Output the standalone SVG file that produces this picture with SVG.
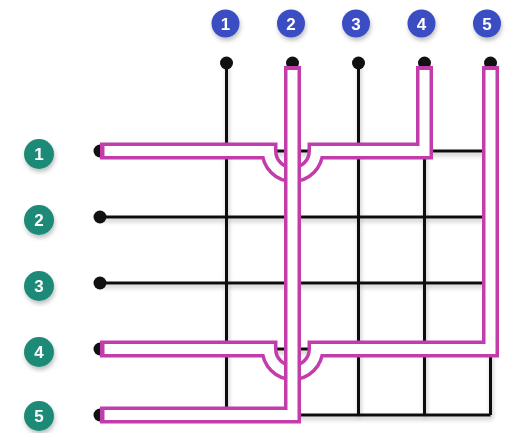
<svg xmlns="http://www.w3.org/2000/svg" width="508" height="433" viewBox="0 0 508 433">
<defs>
<style>
.grid{stroke:#111;stroke-width:3;fill:none}
.dot{fill:#111}
.tubeO{stroke:#c23cab;stroke-width:17;fill:none;stroke-linejoin:miter}
.tubeI{stroke:#fff;stroke-width:10;fill:none;stroke-linejoin:miter}
.bt{fill:#3a4dc2}
.bl{fill:#1e8a77}
.lbl{font-family:"Liberation Sans",Arial,sans-serif;font-weight:bold;font-size:17px;fill:#fff;text-anchor:middle}
</style>
<filter id="sh" x="-20%" y="-20%" width="140%" height="140%">
<feDropShadow dx="1" dy="3" stdDeviation="2" flood-color="#000" flood-opacity="0.25"/>
</filter>
</defs>
<rect width="508" height="433" fill="#fff"/>
<g id="connectors">
<g filter="url(#sh)">
<path class="grid" d="M226.5,63V415M292.5,63V415M358.5,63V415M424.5,63V415M490.5,63V415"/>
<path class="grid" d="M100,151H490.5M100,217H490.5M100,283H490.5M100,349H490.5M100,415H490.5"/>
</g>
<g class="dot">
<circle cx="226.5" cy="63" r="6.5"/><circle cx="292.5" cy="63" r="6.5"/><circle cx="358.5" cy="63" r="6.5"/><circle cx="424.5" cy="63" r="6.5"/><circle cx="490.5" cy="63" r="6.5"/>
<circle cx="100" cy="151" r="6.5"/><circle cx="100" cy="217" r="6.5"/><circle cx="100" cy="283" r="6.5"/><circle cx="100" cy="349" r="6.5"/><circle cx="100" cy="415" r="6.5"/>
</g>
<g id="route-row1-col4">
<path class="tubeO" d="M100,151H269A23.5,23.5 0 0 0 316,151H424.5V66"/>
<path class="tubeI" d="M104.5,151H269A23.5,23.5 0 0 0 316,151H424.5V70"/>
</g>
<g id="route-col5-row4">
<path class="tubeO" d="M490.5,66V349H316A23.5,23.5 0 0 1 269,349H100"/>
<path class="tubeI" d="M490.5,70V349H316A23.5,23.5 0 0 1 269,349H104.5"/>
</g>
<g id="route-col2-row5">
<path class="tubeO" d="M292.5,66V415H100"/>
<path class="tubeI" d="M292.5,70V415H104.5"/>
</g>
</g>
<g id="top-1" filter="url(#sh)"><circle class="bt" cx="225.5" cy="23.5" r="14"/><text class="lbl" x="225.5" y="29.5">1</text></g>
<g id="top-2" filter="url(#sh)"><circle class="bt" cx="291" cy="23.5" r="14"/><text class="lbl" x="291" y="29.5">2</text></g>
<g id="top-3" filter="url(#sh)"><circle class="bt" cx="356" cy="23.5" r="14"/><text class="lbl" x="356" y="29.5">3</text></g>
<g id="top-4" filter="url(#sh)"><circle class="bt" cx="421.5" cy="23.5" r="14"/><text class="lbl" x="421.5" y="29.5">4</text></g>
<g id="top-5" filter="url(#sh)"><circle class="bt" cx="487" cy="23.5" r="14"/><text class="lbl" x="487" y="29.5">5</text></g>
<g id="left-1" filter="url(#sh)"><circle class="bl" cx="39" cy="154" r="15"/><text class="lbl" x="39" y="160">1</text></g>
<g id="left-2" filter="url(#sh)"><circle class="bl" cx="39" cy="220" r="15"/><text class="lbl" x="39" y="226">2</text></g>
<g id="left-3" filter="url(#sh)"><circle class="bl" cx="39" cy="286" r="15"/><text class="lbl" x="39" y="292">3</text></g>
<g id="left-4" filter="url(#sh)"><circle class="bl" cx="39" cy="352" r="15"/><text class="lbl" x="39" y="358">4</text></g>
<g id="left-5" filter="url(#sh)"><circle class="bl" cx="39" cy="416" r="15"/><text class="lbl" x="39" y="422">5</text></g>
</svg>
